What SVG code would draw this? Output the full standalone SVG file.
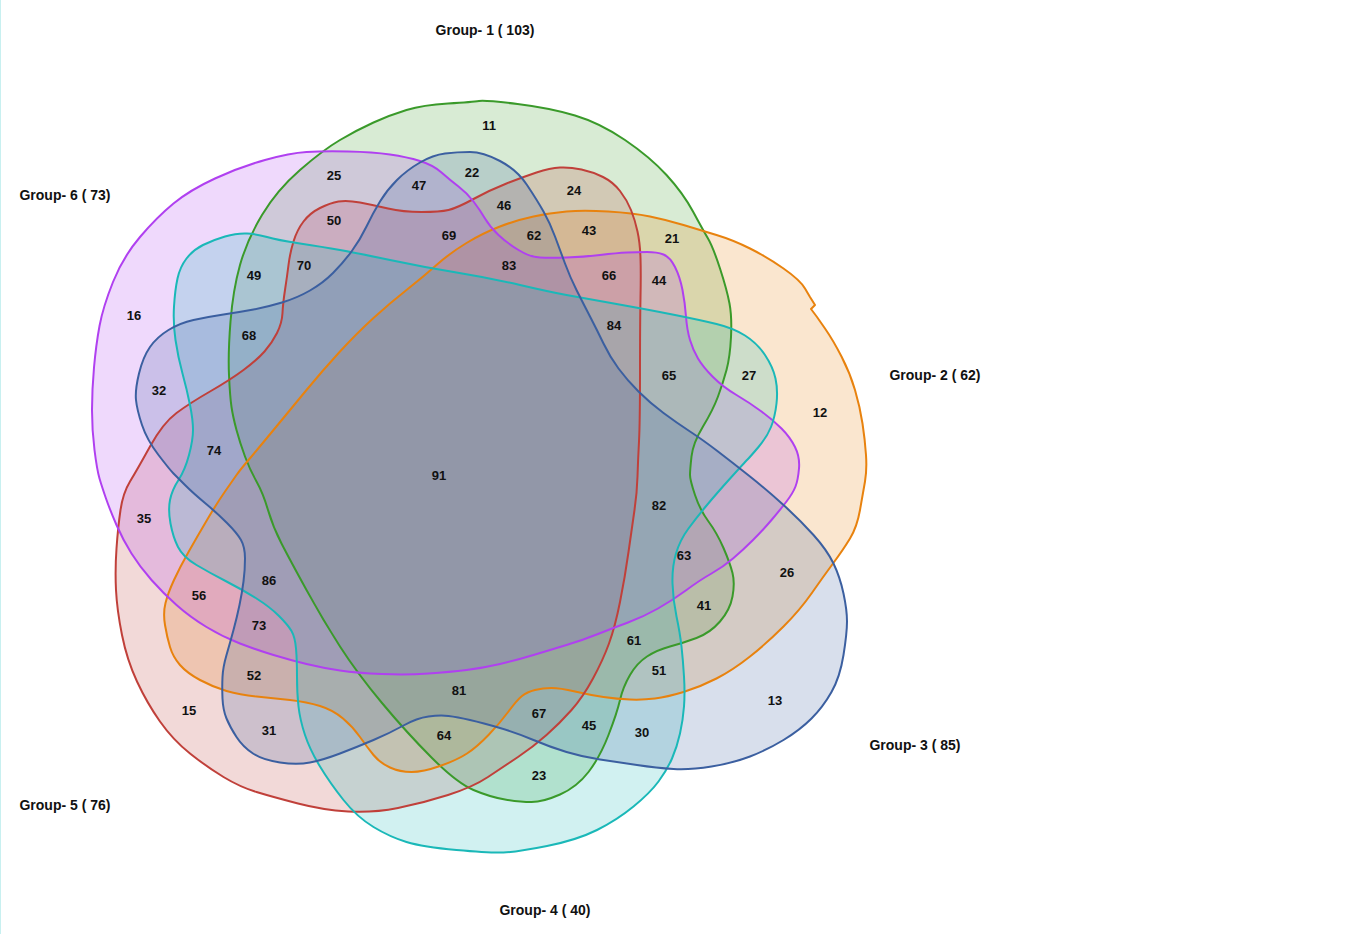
<svg xmlns="http://www.w3.org/2000/svg" xmlns:xlink="http://www.w3.org/1999/xlink" width="1365" height="934" viewBox="0 0 1365 934">
<style>
.fill{stroke:none;fill:currentColor;fill-opacity:0.2}
.line{fill:none;stroke:currentColor;stroke-width:2;stroke-linejoin:round}
.g1{color:#3a9a2a}
.g2{color:#e8820e}
.g3{color:#3b5fa0}
.g4{color:#1ab8b8}
.g5{color:#c0403a}
.g6{color:#b040f0}
text{font-family:"Liberation Sans",Arial,sans-serif;font-weight:bold;fill:#111;text-anchor:middle;dominant-baseline:central}
.n{font-size:13px}
.lab{font-size:14px}
</style>
<defs>
<path id="p1" d="M479,101 Q485,100 517.5,104 Q550,108 575,115.5 Q600,123 625,140 Q650,157 666.5,175 Q683,193 693,211.5 Q703,230 708,238.5 Q713,247 720,268.5 Q727,290 729.5,303.5 Q732,317 731,337 Q730,357 726.5,370 Q723,383 718,396.5 Q713,410 703,426.5 Q693,443 691.5,456.5 Q690,470 690,475 Q690,480 695,495 Q700,510 708.5,521.5 Q717,533 723.5,548 Q730,563 732.5,573 Q735,583 732.5,596.5 Q730,610 720,621.5 Q710,633 696.5,638 Q683,643 670,646.5 Q657,650 647,656.5 Q637,663 630,675 Q623,687 620,700 Q617,713 608.5,735 Q600,757 588.5,772 Q577,787 560,794.5 Q543,802 531.5,802 Q520,802 505,799.5 Q490,797 473.5,790 Q457,783 432,758 Q407,733 382,703 Q357,673 340,646.5 Q323,620 306.5,590 Q290,560 281.5,543.5 Q273,527 268,510 Q263,493 256.5,481.5 Q250,470 245,456.5 Q240,443 236.5,430 Q233,417 231.5,407 Q230,397 229,375 Q228,353 230.5,321.5 Q233,290 240,265 Q247,240 262,215 Q277,190 300,170 Q323,150 340,140 Q357,130 373.5,122.5 Q390,115 406.5,110 Q423,105 448,103.5 Q473,102 479,101 Z"/>
<path id="p2" d="M236.5,475 Q240,470 248.5,460 Q257,450 273.5,430 Q290,410 306.5,390 Q323,370 340,351.5 Q357,333 373.5,318 Q390,303 406.5,290 Q423,277 436.5,265 Q450,253 466.5,243 Q483,233 500,226.5 Q517,220 533.5,216.5 Q550,213 566.5,211.5 Q583,210 608,211.5 Q633,213 650,216.5 Q667,220 683.5,225 Q700,230 716.5,235 Q733,240 750,248.5 Q767,257 783.5,268.5 Q800,280 805,288.5 L810,297 L815,305 L811,309 L817,317 L825,328.5 Q833,340 841.5,356.5 Q850,373 855,390 Q860,407 862.5,423.5 Q865,440 866,455 Q867,470 865,481.5 Q863,493 860,510 Q857,527 850,538.5 Q843,550 833,563.5 Q823,577 811.5,593.5 Q800,610 783.5,626.5 Q767,643 750,656.5 Q733,670 716.5,678.5 Q700,687 683.5,692 Q667,697 655,698.5 Q643,700 630,699.5 Q617,699 603.5,697 Q590,695 575,691.5 Q560,688 551.5,688 Q543,688 535,690 Q527,692 522,696 Q517,700 508.5,711.5 Q500,723 488.5,735 Q477,747 467,753.5 Q457,760 440,766 Q423,772 411.5,772 Q400,772 390,767.5 Q380,763 373.5,755 Q367,747 360,737 Q353,727 343,718.5 Q333,710 320,706 Q307,702 290,700 Q273,698 256.5,696.5 Q240,695 226.5,691 Q213,687 200,680 Q187,673 180,665 Q173,657 170,647 Q167,637 165,625 Q163,613 165.5,603 Q168,593 174,580 Q180,567 188.5,552 Q197,537 207,520 Q217,503 225,491.5 Q233,480 236.5,475 Z"/>
<path id="p5" d="M130,481.5 Q137,470 150,446.5 Q163,423 176.5,413 Q190,403 210,391.5 Q230,380 243.5,370 Q257,360 264.5,351.5 Q272,343 277,333 Q282,323 282.5,313 Q283,303 285,290 Q287,277 288.5,265 Q290,253 293.5,241.5 Q297,230 303.5,221.5 Q310,213 320,208 Q330,203 338.5,201.5 Q347,200 360,202.5 Q373,205 388,208.5 Q403,212 421.5,212 Q440,212 448.5,210 Q457,208 473.5,199 Q490,190 506.5,183.5 Q523,177 536.5,172.5 Q550,168 560,167.5 Q570,167 581.5,169.5 Q593,172 603,177 Q613,182 620,191 Q627,200 631,210 Q635,220 637.5,231.5 Q640,243 640.5,258 Q641,273 640.5,298 Q640,323 640,373 Q640,423 639,441.5 Q638,460 637.5,476.5 Q637,493 634.5,510 Q632,527 628.5,552 Q625,577 620,602 Q615,627 609,643.5 Q603,660 593,678.5 Q583,697 571.5,710 Q560,723 546.5,735 Q533,747 518,757 Q503,767 488,777 Q473,787 448,795 Q423,803 398,808 Q373,813 348,811.5 Q323,810 298,803.5 Q273,797 256.5,792 Q240,787 223.5,777 Q207,767 190,753.5 Q173,740 160,721.5 Q147,703 137,681.5 Q127,660 122,635 Q117,610 116,590 Q115,570 116.5,548.5 Q118,527 120.5,510 Q123,493 130,481.5 Z"/>
<path id="p6" d="M99.5,478.5 Q97,470 94.5,450 Q92,430 92,410 Q92,390 94,367.5 Q96,345 99.5,326 Q103,307 113,282 Q123,257 140,237 Q157,217 173.5,203.5 Q190,190 215,178.5 Q240,167 265,160 Q290,153 306.5,152 Q323,151 348,151.5 Q373,152 390,154.5 Q407,157 420,161 Q433,165 441.5,172.5 Q450,180 458.5,186.5 Q467,193 473.5,201.5 Q480,210 485,218.5 Q490,227 498.5,235 Q507,243 518.5,250 Q530,257 540,257.5 Q550,258 566.5,257.5 Q583,257 600,255 Q617,253 627,252.5 Q637,252 647,252 Q657,252 663.5,254.5 Q670,257 675,267 Q680,277 682.5,290 Q685,303 686,316.5 Q687,330 690,340 Q693,350 698,358.5 Q703,367 713,377 Q723,387 736.5,395 Q750,403 761.5,411.5 Q773,420 781.5,428.5 Q790,437 795,447 Q800,457 799,468.5 Q798,480 795.5,486.5 Q793,493 786.5,501.5 Q780,510 771.5,520 Q763,530 753,540 Q743,550 733,558.5 Q723,567 711.5,573.5 Q700,580 686.5,590 Q673,600 658,608.5 Q643,617 628,622.5 Q613,628 598,634 Q583,640 566.5,645 Q550,650 533.5,655 Q517,660 500,664 Q483,668 466.5,670 Q450,672 428.5,673.5 Q407,675 382,674 Q357,673 340,670.5 Q323,668 306.5,664 Q290,660 273.5,655 Q257,650 240,643.5 Q223,637 206.5,627 Q190,617 176.5,605 Q163,593 151.5,580 Q140,567 131.5,553.5 Q123,540 116.5,525 Q110,510 106,498.5 Q102,487 99.5,478.5 Z"/>
<path id="p4" d="M178.5,480 Q185,470 189,455 Q193,440 193,430 Q193,420 190,405 Q187,390 182.5,373.5 Q178,357 175.5,340 Q173,323 174,306.5 Q175,290 177.5,278.5 Q180,267 186.5,258.5 Q193,250 203,245 Q213,240 225,236.5 Q237,233 247,233.5 Q257,234 267,237 Q277,240 300,243.5 Q323,247 340,250 Q357,253 390,260 Q423,267 456.5,272.5 Q490,278 520,285 Q550,292 566.5,295 Q583,298 616.5,304 Q650,310 675,315 Q700,320 716.5,324 Q733,328 745,335.5 Q757,343 765,355 Q773,367 775.5,378.5 Q778,390 776.5,403.5 Q775,417 771,427 Q767,437 758.5,447 Q750,457 747.5,459.5 Q745,462 731,477.5 Q717,493 707,505 Q697,517 688.5,528.5 Q680,540 676,553.5 Q672,567 672.5,583.5 Q673,600 676.5,616.5 Q680,633 681.5,646.5 Q683,660 684,676.5 Q685,693 684,706.5 Q683,720 680,733.5 Q677,747 672,758.5 Q667,770 658.5,781.5 Q650,793 633.5,806.5 Q617,820 597,830 Q577,840 547,846 Q517,852 503.5,852.5 Q490,853 456.5,850 Q423,847 406.5,842 Q390,837 373.5,827 Q357,817 343.5,800 Q330,783 320,766.5 Q310,750 305,735 Q300,720 298.5,706.5 Q297,693 297,676.5 Q297,660 296,648.5 Q295,637 291.5,631 Q288,625 279,616 Q270,607 256.5,598.5 Q243,590 226.5,581.5 Q210,573 196.5,565 Q183,557 178,547 Q173,537 170.5,523.5 Q168,510 170,500 Q172,490 178.5,480 Z"/>
<path id="p3" d="M173.5,473.5 Q170,470 158.5,455 Q147,440 142,425 Q137,410 136,400 Q135,390 139,373.5 Q143,357 150,347 Q157,337 168.5,330 Q180,323 193.5,320 Q207,317 223.5,314.5 Q240,312 253.5,309.5 Q267,307 282,302.5 Q297,298 310,290.5 Q323,283 333,273 Q343,263 351.5,251.5 Q360,240 366.5,226.5 Q373,213 380,201.5 Q387,190 397,180 Q407,170 420,162.5 Q433,155 445,153.5 Q457,152 470,152 Q483,152 500,161 Q517,170 527,185 Q537,200 543.5,211.5 Q550,223 555,236.5 Q560,250 565,263.5 Q570,277 576.5,290 Q583,303 590,316.5 Q597,330 603.5,343.5 Q610,357 618.5,368.5 Q627,380 638.5,391.5 Q650,403 663.5,413 Q677,423 690,431.5 Q703,440 718,451.5 Q733,463 750,476.5 Q767,490 783.5,505 Q800,520 813.5,535 Q827,550 833.5,563.5 Q840,577 843.5,593.5 Q847,610 847,621.5 Q847,633 843.5,655 Q840,677 831.5,692 Q823,707 811.5,718.5 Q800,730 783.5,740 Q767,750 750,756.5 Q733,763 711.5,766.5 Q690,770 673.5,769 Q657,768 637,765 Q617,762 600,759.5 Q583,757 566.5,752 Q550,747 533.5,740 Q517,733 500,728 Q483,723 470,720 Q457,717 448.5,716 Q440,715 428.5,716.5 Q417,718 403.5,725.5 Q390,733 373.5,740 Q357,747 340,753.5 Q323,760 310,762.5 Q297,765 280,762.5 Q263,760 253,753.5 Q243,747 236.5,737 Q230,727 226.5,718.5 Q223,710 222.5,698.5 Q222,687 222.5,677 Q223,667 226.5,655 Q230,643 233.5,630 Q237,617 239.5,605 Q242,593 243.5,581.5 Q245,570 245,558.5 Q245,547 241,540 Q237,533 227,523 Q217,513 205,503 Q193,493 185,485 Q177,477 173.5,473.5 Z"/>
</defs>
<rect width="1365" height="934" fill="#fff"/>
<line x1="0.5" y1="0" x2="0.5" y2="934" stroke="#c8f0f0" stroke-width="1"/>
<g id="group1">
<use xlink:href="#p1" class="fill g1"/>
<text class="lab" x="485" y="30">Group- 1 ( 103)</text>
</g>
<g id="group2">
<use xlink:href="#p2" class="fill g2"/>
<text class="lab" x="935" y="375">Group- 2 ( 62)</text>
</g>
<g id="group5">
<use xlink:href="#p5" class="fill g5"/>
<text class="lab" x="65" y="805">Group- 5 ( 76)</text>
</g>
<g id="group6">
<use xlink:href="#p6" class="fill g6"/>
<text class="lab" x="65" y="195">Group- 6 ( 73)</text>
</g>
<g id="group4">
<use xlink:href="#p4" class="fill g4"/>
<text class="lab" x="545" y="910">Group- 4 ( 40)</text>
</g>
<g id="group3">
<use xlink:href="#p3" class="fill g3"/>
<text class="lab" x="915" y="745">Group- 3 ( 85)</text>
</g>
<g id="connectors">
<use xlink:href="#p1" class="line g1"/>
<use xlink:href="#p2" class="line g2"/>
<use xlink:href="#p5" class="line g5"/>
<use xlink:href="#p6" class="line g6"/>
<use xlink:href="#p4" class="line g4"/>
<use xlink:href="#p3" class="line g3"/>
</g>
<g id="counts">
<text class="n" x="489" y="125">11</text>
<text class="n" x="334" y="175">25</text>
<text class="n" x="419" y="185">47</text>
<text class="n" x="472" y="172">22</text>
<text class="n" x="574" y="190">24</text>
<text class="n" x="504" y="205">46</text>
<text class="n" x="334" y="220">50</text>
<text class="n" x="589" y="230">43</text>
<text class="n" x="672" y="238">21</text>
<text class="n" x="449" y="235">69</text>
<text class="n" x="534" y="235">62</text>
<text class="n" x="509" y="265">83</text>
<text class="n" x="304" y="265">70</text>
<text class="n" x="609" y="275">66</text>
<text class="n" x="659" y="280">44</text>
<text class="n" x="254" y="275">49</text>
<text class="n" x="134" y="315">16</text>
<text class="n" x="614" y="325">84</text>
<text class="n" x="249" y="335">68</text>
<text class="n" x="669" y="375">65</text>
<text class="n" x="749" y="375">27</text>
<text class="n" x="820" y="412">12</text>
<text class="n" x="159" y="390">32</text>
<text class="n" x="214" y="450">74</text>
<text class="n" x="439" y="475">91</text>
<text class="n" x="659" y="505">82</text>
<text class="n" x="144" y="518">35</text>
<text class="n" x="684" y="555">63</text>
<text class="n" x="787" y="572">26</text>
<text class="n" x="269" y="580">86</text>
<text class="n" x="199" y="595">56</text>
<text class="n" x="704" y="605">41</text>
<text class="n" x="259" y="625">73</text>
<text class="n" x="634" y="640">61</text>
<text class="n" x="659" y="670">51</text>
<text class="n" x="254" y="675">52</text>
<text class="n" x="459" y="690">81</text>
<text class="n" x="775" y="700">13</text>
<text class="n" x="189" y="710">15</text>
<text class="n" x="539" y="713">67</text>
<text class="n" x="589" y="725">45</text>
<text class="n" x="269" y="730">31</text>
<text class="n" x="642" y="732">30</text>
<text class="n" x="444" y="735">64</text>
<text class="n" x="539" y="775">23</text>
</g>
</svg>
